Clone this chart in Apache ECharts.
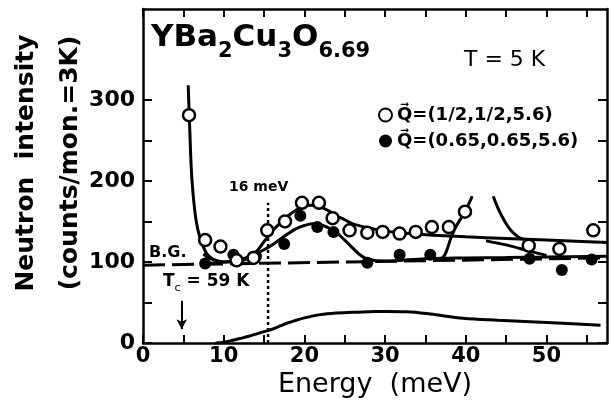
<!DOCTYPE html>
<html>
<head>
<meta charset="utf-8">
<script src="https://cdn.jsdelivr.net/npm/echarts@6/dist/echarts.min.js"></script>
<style>
  html, body { margin: 0; padding: 0; background: #fff; }
  #chart { width: 612px; height: 411px; }
</style>
</head>
<body>
<div id="chart"></div>
<script>
// ===== YBa2Cu3O6.69 中子散射能谱 =====

const FONT = 'DejaVu Sans';
const INK = '#000';

// 数据点：Q=(1/2,1/2,5.6) 空心圆
const openE = [5.7, 7.7, 9.6, 11.6, 13.7, 15.4, 17.6, 19.7, 21.8, 23.5, 25.6, 27.8, 29.7, 31.8, 33.8, 35.8, 37.9, 39.9, 47.8, 51.6, 55.8];
const openI = [281, 127, 119, 102, 105, 139, 150, 173, 173, 154, 139, 136, 137, 135, 137, 143, 143, 162, 120, 116, 139];

// 数据点：Q=(0.65,0.65,5.6) 实心圆
const filledE = [7.7, 11.2, 14.0, 17.5, 19.5, 21.6, 23.6, 27.8, 31.8, 35.6, 47.9, 51.9, 55.6];
const filledI = [98, 109, 107, 122, 157, 143, 137, 99, 109, 109, 104, 90, 103];

// 拟合曲线
const steepE = [5.6, 5.8, 6.0, 6.3, 6.6, 7.0, 7.5, 8.0, 8.6];
const steepI = [318, 262, 212, 174, 150, 132, 118, 109, 104];

const openFitE = [7.5, 8, 9, 10, 11, 12, 13, 14, 15, 16, 17, 18, 19, 20, 21, 22, 23, 24, 25, 26, 28, 30, 33, 36, 40, 45, 50, 57.5];
const openFitI = [110, 106, 102, 100, 100, 101, 104, 112, 125, 138, 148, 157, 164, 169, 170, 168, 163, 157, 152, 147, 142, 138, 135, 133, 131, 129, 127, 124];

const filledFitE = [7.5, 8, 9, 10, 11, 12, 13, 14, 15, 16, 17, 18, 19, 20, 21, 22, 23, 24, 25, 26, 27, 28, 30, 35, 40, 45, 50, 57.5];
const filledFitI = [97, 98, 99, 100, 101, 103, 106, 110, 115, 121, 128, 135, 141, 145, 147, 146, 142, 136, 127, 117, 108, 103, 101, 104, 105, 105.5, 106, 107];

const riseE = [36.6, 37.2, 37.6, 38.1, 38.6, 39.1, 39.6, 40.2, 40.8];
const riseI = [103, 106, 113, 128, 140, 149, 157, 168, 181];

const hookE = [43.4, 44, 44.5, 45, 45.5, 46, 46.8, 48];
const hookI = [181, 166, 156, 147, 140, 135, 129, 127];

const wedgeE = [42.5, 45, 48, 50];
const wedgeI = [126, 121, 113, 108];

const bgE = [0, 57.5];
const bgI = [96, 105];

// 差值曲线（底部）
const diffE = [9, 10, 11, 12, 13, 14, 15, 16, 17, 18, 19, 20, 22, 24, 26, 28, 30, 32.7, 35.6, 39.7, 44, 48, 52, 56.7];
const diffI = [0, 1, 3, 5.5, 8, 11, 14, 17, 21, 25, 28, 31, 35, 37, 38, 38.5, 39, 38.6, 35.8, 30.4, 28, 26.3, 24.5, 22];

// 标注
const gapE = 15.5;
const gapTop = 173;
const tcE = 4.8;
const tcArrow = [52, 17];

// 坐标轴刻度
const xLabelValues = [0, 10, 20, 30, 40, 50];
const xTickValues = [0, 5, 10, 15, 20, 25, 30, 35, 40, 45, 50, 55];
const yLabelValues = [0, 100, 200, 300];
const yTickValues = [0, 50, 100, 150, 200, 250, 300];

const openName = 'Q\u20D7=(1/2,1/2,5.6)';
const filledName = 'Q\u20D7=(0.65,0.65,5.6)';

const zip = (xs, ys) => xs.map((x, i) => [x, ys[i]]);

function curve(name, xs, ys, extra) {
  return Object.assign({
    name, type: 'line', data: zip(xs, ys),
    smooth: 0.35, symbol: 'none', silent: true,
    lineStyle: { color: INK, width: 3 },
  }, extra || {});
}

const dom = document.getElementById('chart');
const chart = echarts.init(dom, null, { renderer: 'canvas' });

const xAxisBase = {
  type: 'value', min: 0, max: 57.5,
  axisLine: { show: true, onZero: false, lineStyle: { color: INK, width: 2.5 } },
  axisTick: { show: true, inside: true, length: 8, customValues: xTickValues, lineStyle: { color: INK, width: 2 } },
  splitLine: { show: false },
};

const yAxisBase = {
  type: 'value', min: 0, max: 412,
  axisLine: { show: true, onZero: false, lineStyle: { color: INK, width: 2.5 } },
  axisTick: { show: true, inside: true, length: 9, customValues: yTickValues, lineStyle: { color: INK, width: 2 } },
  splitLine: { show: false },
};

const option = {
  backgroundColor: '#fff',
  animation: false,
  grid: { left: 143, right: 5, top: 9, bottom: 68, outerBoundsMode: 'none', containLabel: false },
  legend: {
    data: [openName, filledName],
    orient: 'vertical', left: 373, top: 101,
    itemGap: 8, itemWidth: 13, itemHeight: 13,
    icon: 'circle',
    textStyle: { fontFamily: FONT, fontSize: 18, fontWeight: 'bold', color: INK },
    selectedMode: false,
  },
  xAxis: [
    Object.assign({}, xAxisBase, {
      position: 'bottom',
      name: 'Energy  (meV)', nameLocation: 'middle', nameGap: 28, nameMoveOverlap: false,
      nameTextStyle: { fontFamily: FONT, fontSize: 27, color: INK },
      axisLabel: { fontFamily: FONT, fontSize: 21, fontWeight: 'bold', color: INK, margin: 3, customValues: xLabelValues },
    }),
    Object.assign({}, xAxisBase, { position: 'top', axisLabel: { show: false } }),
  ],
  yAxis: [
    Object.assign({}, yAxisBase, {
      position: 'left',
      name: 'Neutron  intensity\n(counts/mon.=3K)', nameLocation: 'middle', nameRotate: 90, nameGap: 51, nameMoveOverlap: false,
      nameTextStyle: { fontFamily: FONT, fontSize: 25, fontWeight: 'bold', color: INK, lineHeight: 44, padding: [0, 0, 0, 26] },
      axisLabel: { fontFamily: FONT, fontSize: 22, fontWeight: 'bold', color: INK, margin: 8, customValues: yLabelValues },
    }),
    Object.assign({}, yAxisBase, { position: 'right', axisLabel: { show: false } }),
  ],
  series: [
    curve('bg', bgE, bgI, { smooth: false, lineStyle: { color: INK, width: 3, type: [22, 7] } }),
    curve('steep', steepE, steepI),
    curve('openFit', openFitE, openFitI),
    curve('filledFit', filledFitE, filledFitI),
    curve('rise', riseE, riseI),
    curve('hook', hookE, hookI),
    curve('wedge', wedgeE, wedgeI),
    curve('diff', diffE, diffI, {
      markLine: {
        silent: true, symbol: ['none', 'arrow'], symbolSize: [8, 10],
        label: { show: false },
        lineStyle: { color: INK, width: 2, type: 'solid' },
        data: [[{ coord: [tcE, tcArrow[0]] }, { coord: [tcE, tcArrow[1]] }]],
      },
    }),
    curve('gap', [gapE, gapE], [0, gapTop], { smooth: false, lineStyle: { color: INK, width: 2.5, type: [3, 3] } }),
    {
      name: openName, type: 'scatter', data: zip(openE, openI),
      symbol: 'circle', symbolSize: 12, z: 5,
      itemStyle: { color: '#fff', borderColor: INK, borderWidth: 2.5, opacity: 1 },
    },
    {
      name: filledName, type: 'scatter', data: zip(filledE, filledI),
      symbol: 'circle', symbolSize: 12, z: 4,
      itemStyle: { color: INK, opacity: 1 },
    },
  ],
  graphic: [
    {
      type: 'text', left: 151, top: 22,
      style: {
        text: '{a|YBa}{s|2}{a|Cu}{s|3}{a|O}{s|6.69}',
        rich: {
          a: { fontFamily: FONT, fontSize: 31, fontWeight: 'bold', fill: INK, verticalAlign: 'bottom', padding: [0, 0, 9, 0] },
          s: { fontFamily: FONT, fontSize: 21, fontWeight: 'bold', fill: INK, verticalAlign: 'bottom' },
        },
      },
    },
    { type: 'text', left: 464, top: 49, style: { text: 'T = 5 K', fontFamily: FONT, fontSize: 22, fill: INK } },
    { type: 'text', left: 229, top: 180, style: { text: '16 meV', fontFamily: FONT, fontSize: 14, fontWeight: 'bold', fill: INK } },
    { type: 'text', left: 149, top: 245, style: { text: 'B.G.', fontFamily: FONT, fontSize: 16, fontWeight: 'bold', fill: INK } },
    {
      type: 'text', left: 163, top: 273,
      style: {
        text: '{a|T}{s|c}{a| = 59 K}',
        rich: {
          a: { fontFamily: FONT, fontSize: 17, fontWeight: 'bold', fill: INK, verticalAlign: 'bottom', padding: [0, 0, 4, 0] },
          s: { fontFamily: FONT, fontSize: 11, fill: INK, verticalAlign: 'bottom' },
        },
      },
    },
  ],
};

chart.setOption(option);
window.addEventListener('resize', () => chart.resize());
</script>
</body>
</html>
